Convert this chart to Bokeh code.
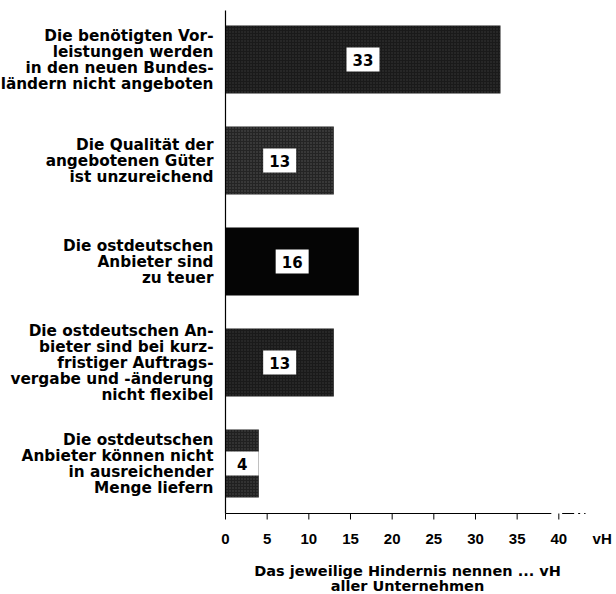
from bokeh.plotting import figure
from bokeh.models import Range1d, ColumnDataSource
from bokeh.embed import file_html
from bokeh.resources import INLINE
from bokeh.core.properties import value

# ---- data ----
categories = [
    "Die benötigten Vor-\nleistungen werden\nin den neuen Bundes-\nländern nicht angeboten",
    "Die Qualität der\nangebotenen Güter\nist unzureichend",
    "Die ostdeutschen\nAnbieter sind\nzu teuer",
    "Die ostdeutschen An-\nbieter sind bei kurz-\nfristiger Auftrags-\nvergabe und -änderung\nnicht flexibel",
    "Die ostdeutschen\nAnbieter können nicht\nin ausreichender\nMenge liefern",
]
values = [33, 13, 16, 13, 4]
x_ticks = [0, 5, 10, 15, 20, 25, 30, 35, 40]
x_tick_labels = ["0", "5", "10", "15", "20", "25", "30", "35", "40"]
unit_label = "vH"
x_title_lines = ["Das jeweilige Hindernis nennen ... vH", "aller Unternehmen"]

# ---- styles ----
bar_colors = ["#1a1a1a", "#242424", "#050505", "#1a1a1a", "#202020"]
bar_hatch_alpha = [0.25, 0.4, 0.0, 0.25, 0.35]
FONT = "DejaVu Sans"
NUM_FONT = "Liberation Sans"

# layout: y in pixel-like units (1 unit = 1 px, 0 = bottom of the canvas)
CANVAS_W, CANVAS_H = 616, 594
PX_PER_UNIT = 8.333          # horizontal scale, px per vH
ORIGIN_PX = 225              # screen x of the value 0
TOP_CENTER = 535
STEP = 101
BAR_H = 68
LINE_H = 16
AXIS_Y = 81                  # baseline of the value axis
TICK_LEN = 6
TICK_LABEL_Y = 56
TITLE_Y = [24, 9]
TITLE_X = 21.84              # centre of the axis title in value units
UNIT_X = 45.2
CAT_LABEL_X = -1.44          # right edge of the category labels, value units

centers = [TOP_CENTER - STEP * i for i in range(len(categories))]

p = figure(width=CANVAS_W, height=CANVAS_H, output_backend="svg",
           toolbar_location=None,
           x_range=Range1d(-ORIGIN_PX / PX_PER_UNIT,
                           (CANVAS_W - ORIGIN_PX) / PX_PER_UNIT),
           y_range=Range1d(0, CANVAS_H),
           min_border_left=0, min_border_right=0, min_border_top=0,
           min_border_bottom=0)
p.outline_line_color = None
p.xgrid.visible = False
p.ygrid.visible = False
p.xaxis.visible = False
p.yaxis.visible = False
p.background_fill_color = "white"

src = ColumnDataSource(dict(y=centers, right=values, color=bar_colors,
                            ha=bar_hatch_alpha,
                            mid=[v / 2 for v in values],
                            txt=[str(v) for v in values]))
p.hbar(y="y", left=0, right="right", height=BAR_H, source=src,
       fill_color="color", line_color=None,
       hatch_pattern="dot", hatch_color="#a0a0a0", hatch_scale=3,
       hatch_weight=0.6, hatch_alpha="ha")
p.rect(x="mid", y="y", width=33, height=24, width_units="screen",
       height_units="screen", source=src, fill_color="white", line_color=None)
p.text(x="mid", y="y", text="txt", source=src, text_align="center",
       text_baseline="middle", text_font=value(FONT), text_font_style="bold",
       text_font_size="15px", text_color="black")

# vertical category axis line
p.segment(x0=[0], y0=[AXIS_Y], x1=[0], y1=[CANVAS_H - 10], line_color="black",
          line_width=1.2)
# value axis baseline, ticks, tick labels
p.segment(x0=[0], y0=[AXIS_Y], x1=[39.1], y1=[AXIS_Y], line_color="black",
          line_width=1.2)
p.segment(x0=[40.4], y0=[AXIS_Y], x1=[43.2], y1=[AXIS_Y], line_color="black",
          line_width=1.2, line_dash="12 4 2 4")
p.segment(x0=x_ticks, y0=[AXIS_Y] * len(x_ticks), x1=x_ticks,
          y1=[AXIS_Y - TICK_LEN] * len(x_ticks), line_color="black",
          line_width=1)
p.text(x=x_ticks + [UNIT_X], y=[TICK_LABEL_Y] * (len(x_ticks) + 1),
       text=x_tick_labels + [unit_label], text_align="center",
       text_baseline="middle", text_font=value(NUM_FONT),
       text_font_style="bold", text_font_size="15px", text_color="black")
# axis title
p.text(x=[TITLE_X] * len(x_title_lines), y=TITLE_Y, text=x_title_lines,
       text_align="center", text_baseline="middle", text_font=value(FONT),
       text_font_style="bold", text_font_size="14.5px", text_color="black")

# category labels, one text per line, right-aligned next to the axis
lab_y, lab_t = [], []
for c, cat in zip(centers, categories):
    lines = cat.split("\n")
    n = len(lines)
    for k, ln in enumerate(lines):
        lab_y.append(c + 8 * (n - 1) - LINE_H * k)
        lab_t.append(ln)
p.text(x=[CAT_LABEL_X] * len(lab_t), y=lab_y, text=lab_t, text_align="right",
       text_baseline="middle", text_font=value(FONT), text_font_style="bold",
       text_font_size="15.3px", text_color="black")

open("out.html", "w").write(file_html(p, INLINE))
